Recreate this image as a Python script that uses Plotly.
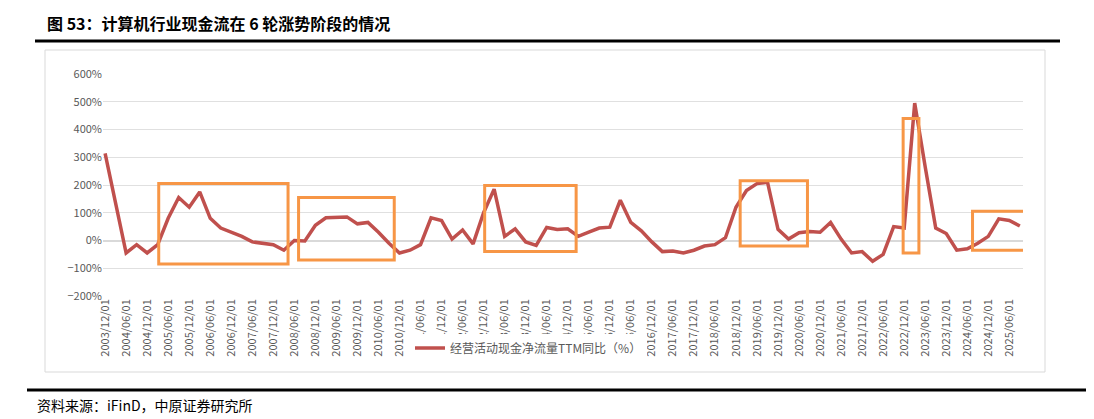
import plotly.graph_objects as go

# quarterly, 2003/12 .. 2025/09
values = [314, 135, -45, -15, -45, -15, 80, 155, 120, 175,
          80, 45, 30, 15, -5, -10, -15, -35, 0, -2,
          55, 82, 85, 85, 60, 65, 30, -10, -45, -35,
          -15, 82, 72, 5, 38, -12, 100, 185, 15, 42,
          -5, -18, 47, 40, 42, 15, 30, 45, 48, 145,
          65, 35, -5, -40, -38, -45, -35, -20, -15, 10,
          120, 180, 205, 210, 40, 5, 28, 32, 30, 65,
          5, -45, -40, -75, -50, 50, 45, 495, 265, 45,
          25, -35, -30, -10, 15, 78, 72, 52]

labels = []
y, m = 2003, 12
for _ in values:
    labels.append(f"{y}/{m:02d}/01")
    m += 3
    if m > 12:
        m -= 12
        y += 1
x = list(range(len(values)))

# highlighted rally phases: (x0, x1, y0, y1) in quarter index / percent
boxes = [(5.1, 17.4, -85, 205), (18.4, 27.5, -70, 155), (36.1, 44.8, -40, 198),
         (60.4, 66.8, -20, 215), (75.9, 77.4, -45, 440), (82.5, 87.7, -35, 105)]

fig = go.Figure(go.Scatter(
    x=x, y=values, mode="lines", name="经营活动现金净流量TTM同比（%）",
    line=dict(color="#C0504D", width=3.5)))

for x0, x1, y0, y1 in boxes:
    fig.add_shape(type="rect", x0=x0, x1=x1, y0=y0, y1=y1,
                  line=dict(color="#F79646", width=3))

# page is offset by the 8px body margin, so work in shifted pixels
OFF = 8
W, H = 1094, 419
L, R, T, B = 103 - OFF, 71 + OFF, 74 - OFF, 123 + OFF
pw, ph = W - L - R, H - T - B
px = lambda p: (p - OFF - L) / pw
py = lambda p: (H - B - (p - OFF)) / ph

fig.add_shape(type="line", xref="paper", yref="paper", x0=px(0), x1=px(1110),
              y0=py(6), y1=py(6), line=dict(color="#8B0000", width=3))
fig.add_shape(type="line", xref="paper", yref="paper", x0=px(35), x1=px(1060),
              y0=py(41), y1=py(41), line=dict(color="black", width=3))
fig.add_shape(type="rect", xref="paper", yref="paper", x0=px(45), x1=px(1045),
              y0=py(372), y1=py(50), line=dict(color="#D9D9D9", width=1), layer="below")
fig.add_shape(type="line", xref="paper", yref="paper", x0=px(27), x1=px(1110),
              y0=py(390), y1=py(390), line=dict(color="black", width=3))

fig.add_annotation(xref="paper", yref="paper", x=px(45), y=py(23), xanchor="left",
                   yanchor="middle", showarrow=False,
                   text="<b>图 53：计算机行业现金流在 6 轮涨势阶段的情况</b>",
                   font=dict(size=16, color="black", family="Noto Sans CJK SC"))
fig.add_annotation(xref="paper", yref="paper", x=px(35), y=py(405), xanchor="left",
                   yanchor="middle", showarrow=False,
                   text="资料来源：iFinD，中原证券研究所",
                   font=dict(size=14, color="black", family="Noto Sans CJK SC"))

fig.update_layout(
    width=W, height=H, margin=dict(l=L, r=R, t=T, b=B),
    paper_bgcolor="white", plot_bgcolor="white",
    font=dict(family="Noto Sans CJK SC", color="#595959", size=11),
    showlegend=True,
    legend=dict(orientation="h", x=px(410), y=py(348), xanchor="left", yanchor="middle",
                font=dict(size=12, color="#595959")),
    xaxis=dict(range=[-0.2, len(values) - 0.7], tickvals=x[::2], ticktext=labels[::2],
               tickangle=-90, showgrid=False, zeroline=False, ticks="",
               tickfont=dict(size=11, color="#595959")),
    yaxis=dict(range=[-200, 600], dtick=100, ticksuffix="%", gridcolor="#E0E0E0",
               zeroline=True, zerolinecolor="#D9D9D9", tickfont=dict(size=11, color="#595959")),
)

fig.write_html("out.html")
